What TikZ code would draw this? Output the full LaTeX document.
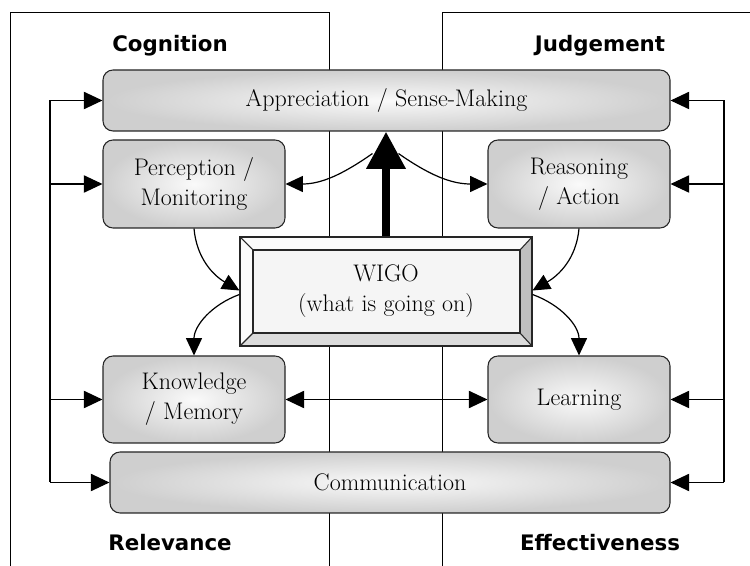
\documentclass[tikz,border=0pt]{standalone}
\usepackage{fontspec}
\usetikzlibrary{arrows.meta,calc}
\newfontfamily\headfont{DejaVu Sans}

\tikzset{every picture/.style={line width=0.75pt}}
\tikzset{
  roundbox/.style={draw=black!85, line width=0.8pt, rounded corners=7.5pt,
    inner color=gray!4, outer color=gray!38, align=center,
    font=\fontsize{18}{22.5}\selectfont},
  wigobox/.style={draw=black!85, line width=0.8pt, align=center,
    font=\fontsize{18}{22.5}\selectfont,
    path picture={
      \path (path picture bounding box.north west) coordinate (onw)
            (path picture bounding box.north east) coordinate (one)
            (path picture bounding box.south east) coordinate (ose)
            (path picture bounding box.south west) coordinate (osw);
      \path ($(onw)+(13,13)$) coordinate (inw)
            ($(one)+(-12,13)$) coordinate (ine)
            ($(ose)+(-12,-13)$) coordinate (ise)
            ($(osw)+(13,-13)$) coordinate (isw);
      \fill[gray!3] (onw) -- (one) -- (ine) -- (inw) -- cycle;
      \fill[gray!3] (onw) -- (inw) -- (isw) -- (osw) -- cycle;
      \fill[gray!50] (one) -- (ose) -- (ise) -- (ine) -- cycle;
      \fill[gray!28] (osw) -- (isw) -- (ise) -- (ose) -- cycle;
      \draw[fill=gray!8] (inw) rectangle (ise);
      \draw (onw) -- (inw) (one) -- (ine) (ose) -- (ise) (osw) -- (isw);
    }},
  corner/.style={font=\headfont\bfseries\fontsize{16}{19}\selectfont, anchor=base},
  fbarrow/.style={line width=0.9pt, -{Triangle[length=14pt,width=13pt]}},
  curvarrow/.style={line width=0.9pt, -{Triangle[length=13pt,width=12pt]}},
  bothways/.style={line width=0.9pt, {Triangle[length=14pt,width=13pt]}-{Triangle[length=14pt,width=13pt]}},
  bigarrow/.style={line width=6.5pt, -{Triangle[length=28pt,width=28pt]}},
}

\begin{document}
\begin{tikzpicture}[x=0.75pt,y=-0.75pt]
  \useasboundingbox (0,0) rectangle (750,566);

  % frames
  \draw (10,566) -- (10,13) -- (329,13) -- (329,566);
  \draw (442,566) -- (442,13) -- (750,13);

  % corner labels
  \node[corner] (cog) at (170,52) {Cognition};
  \node[corner] (jud) at (600,52) {Judgement};
  \node[corner] (rel) at (170,550) {Relevance};
  \node[corner] (eff) at (600,550) {Effectiveness};

  % boxes
  \node[roundbox, minimum width=425.25pt, minimum height=45.75pt] (app) at (386.5,100.5) {Appreciation / Sense-Making};
  \node[roundbox, minimum width=136.5pt, minimum height=66pt] (perc) at (194,184) {Perception /\\Monitoring};
  \node[roundbox, minimum width=136.5pt, minimum height=66pt] (reas) at (579,184) {Reasoning\\/ Action};
  \node[wigobox, minimum width=219pt, minimum height=81.75pt] (wigo) at (386,291.5) {WIGO\\(what is going on)};
  \node[roundbox, minimum width=136.5pt, minimum height=65.25pt] (know) at (194,399.5) {Knowledge\\/ Memory};
  \node[roundbox, minimum width=136.5pt, minimum height=65.25pt] (lear) at (579,399.5) {Learning};
  \node[roundbox, minimum width=420pt, minimum height=45.75pt] (comm) at (390,482.5) {Communication};

  % feedback buses
  \coordinate (lbus) at (50,101);
  \coordinate (rbus) at (724,101);
  \draw[line width=0.9pt] (app.west -| lbus) -- (comm.west -| lbus);
  \foreach \n in {app,perc,know,comm}
    \draw[fbarrow] (\n.west -| lbus) -- (\n.west);
  \draw[line width=0.9pt] (app.east -| rbus) -- (comm.east -| rbus);
  \foreach \n in {app,reas,lear,comm}
    \draw[fbarrow] (\n.east -| rbus) -- (\n.east);

  % WIGO up to appreciation
  \draw[bigarrow] (wigo.north) -- (wigo.north |- app.south);

  % curved links
  \coordinate (hl) at ($(app.south)+(-14,22)$);
  \coordinate (hr) at ($(app.south)+(12,22)$);
  \draw[curvarrow] (hl) to[out=215,in=0] (perc.east);
  \draw[curvarrow] (hr) to[out=-35,in=180] (reas.west);
  \draw[curvarrow] (perc.south) to[out=-85,in=150] ($(wigo.west)+(0,-1)$);
  \draw[curvarrow] ($(wigo.west)+(0,3)$) to[out=200,in=90] (know.north);
  \draw[curvarrow] (reas.south) to[out=-95,in=30] ($(wigo.east)+(0,-1)$);
  \draw[curvarrow] ($(wigo.east)+(0,3)$) to[out=-20,in=90] (lear.north);
  \draw[bothways] (know.east) -- (lear.west);

\end{tikzpicture}
\end{document}
